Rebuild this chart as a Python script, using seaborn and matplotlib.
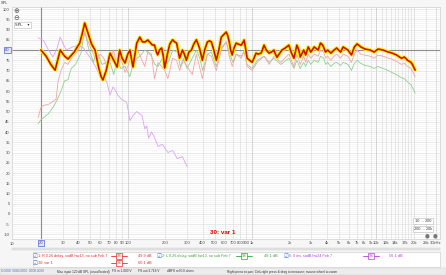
import matplotlib
matplotlib.use("Agg")
import matplotlib.pyplot as plt
import seaborn as sns
import pandas as pd
from matplotlib.lines import Line2D
from matplotlib.patches import Rectangle

sns.set_theme(style="white")
plt.rcParams['font.family'] = ['Liberation Sans', 'DejaVu Sans']

# ---------------- data ----------------
var1_freq = [20, 22, 24, 26, 28.6, 31, 33, 37, 41, 43, 45, 48, 51, 54.5, 58, 61, 63, 67, 72, 77, 82, 86, 90, 95,
             100, 104, 110, 118, 125, 131, 137, 145, 150, 157, 164, 170, 174, 180, 187, 193, 198, 204, 209, 218,
             229, 238, 247, 255, 261, 268, 275, 285, 296, 310, 325, 340, 356, 367, 377, 388, 398, 415, 437, 455,
             470, 492, 515, 540, 565, 590, 619, 637, 655, 672, 692, 715, 745, 780, 817, 840, 863, 885, 912, 955,
             1000, 1035, 1076, 1120, 1180, 1210, 1247, 1300, 1368, 1430, 1500, 1540, 1585, 1650, 1738, 1850,
             1977, 2060, 2168, 2230, 2291, 2377, 2440, 2600, 2700, 2830, 2965, 3160, 3400, 3550, 3700, 3900,
             4050, 4300, 4570, 4790, 5150, 5400, 5900, 6300, 6650, 7000, 7500, 8100, 8900, 9600, 10300, 11300,
             12500, 13400, 14500, 15900, 16800, 17800, 19000, 19600, 20500]
var1_db = [80, 77, 73, 70.2, 80, 77, 75.6, 79, 83.4, 88, 93.2, 88, 83, 80, 72, 67, 65.4, 70, 78.5, 75, 71.7, 80, 76,
           73.7, 78, 80, 71.7, 83.4, 86.3, 84, 83.9, 84.9, 83.9, 82.5, 82.4, 79, 77.6, 80, 81, 77, 71.2, 75, 78.5,
           83, 85, 84, 83.4, 79, 76, 78, 80, 78, 75, 79, 80, 83, 85, 83, 81, 78, 75, 80, 84, 84.5, 84, 80, 75, 80,
           86.3, 87.5, 88.8, 87, 84, 80, 77.6, 81, 83.4, 82.8, 82.4, 83.5, 84.9, 81, 76, 75, 74, 76, 78.5, 78,
           78.5, 80, 82.4, 80, 78.5, 79, 80, 78, 76.5, 78, 80, 81, 82.4, 79, 76, 79, 82.4, 80, 76.6, 80, 77.6,
           81.5, 79, 81.5, 80, 83.4, 82.4, 79, 80, 78.5, 80, 81, 79, 81.5, 80, 77.6, 81.5, 83, 81.5, 80.5, 80, 79,
           80.5, 80, 79, 78.5, 77.6, 76, 76.6, 75, 74, 72.7, 70.2]

r_freq = [19, 20, 21, 23, 25, 26.5, 27.5, 29, 31, 33, 36, 40, 43, 45, 48, 52, 56, 60, 64, 68, 72, 77, 82, 88, 95,
          100, 104, 112, 120, 130, 137, 145, 155, 164, 175, 187, 198, 210, 229, 247, 261, 280, 300, 330, 356, 377,
          398, 437, 470, 515, 565, 619, 655, 692, 745, 817, 863, 912, 1000, 1100, 1250, 1370, 1500, 1700, 1980,
          2170, 2290, 2440, 2600, 2700, 2830, 2965, 3160, 3400, 3550, 3770, 3900, 4050, 4300, 4570, 4790, 5150,
          5400, 5900, 6300, 6650, 7000, 7500, 8100, 8900, 9600, 10300, 11300, 12500, 13400, 14500, 15900, 16800,
          17800, 19000, 19600, 20500]
r_db = [47, 52, 53, 53.5, 55, 56, 65, 70, 74, 73, 77, 80, 85, 88, 84, 79, 75, 78, 76, 72, 76, 80, 71, 76, 69, 72,
        75, 77, 80, 75, 72, 79, 78, 66, 74, 72, 70, 66, 76, 75, 70, 75, 72, 68, 78, 72, 66, 78, 77, 70, 80, 84, 77,
        72, 78, 76, 80, 72, 70, 74, 77, 73, 77, 74, 78, 72, 78, 73, 77, 74, 78, 76, 78, 77, 80, 79, 76, 77, 75, 77,
        78, 76, 78, 77, 74, 78, 80, 78, 77.5, 77, 76, 77.5, 77, 76, 75.5, 74.5, 73, 73.5, 72, 71, 69.5, 67]

l_freq = [19, 20, 21, 23, 25, 27, 29, 31, 33, 35, 38, 42, 45, 48, 53, 56, 62, 68, 72, 77, 82, 88, 95, 104, 110,
          118, 125, 137, 145, 155, 165, 175, 190, 200, 215, 230, 250, 265, 280, 300, 330, 356, 380, 400, 437, 470,
          515, 565, 619, 655, 700, 745, 820, 865, 910, 1000, 1100, 1250, 1370, 1500, 1700, 1980, 2170, 2290, 2440,
          2600, 2700, 2830, 2965, 3160, 3400, 3550, 3770, 3900, 4050, 4300, 4570, 4790, 5150, 5400, 5900, 6300,
          6650, 7000, 7500, 8100, 8900, 9600, 10300, 11300, 12500, 13400, 14500, 15900, 16800, 17800, 19000,
          19600, 20500]
l_db = [44, 46, 47, 49, 52, 55.6, 60, 65, 65.5, 71, 73, 78.5, 90, 81.5, 74, 80, 73, 74, 74, 68, 75, 71, 72, 67,
        73, 76, 77, 80, 79, 77, 73, 72, 76, 72, 75, 80, 79, 72, 76, 71, 76, 80, 76, 70, 78, 79, 72, 81, 84, 79, 74,
        78, 77, 79, 73, 71, 75, 77, 74, 76, 73, 76, 71, 75, 71, 74, 72, 75, 73, 75, 74, 77, 76, 73, 74, 72, 73.5,
        74, 72.5, 74, 73, 70, 73.5, 75, 73.5, 72.5, 72, 71, 72, 71, 70, 69, 68, 66.5, 66, 64.5, 63, 61.5, 59]

inv_freq = [19, 21, 23, 25, 27, 28.6, 30, 32, 36, 40, 44, 50, 55, 60, 64, 68, 72, 76, 80, 83, 89, 98, 104, 110,
            118, 130, 137, 142, 147, 155, 162, 175, 190, 210, 230, 250, 275, 300]
inv_db = [86, 84.6, 80, 76.6, 81, 86.3, 83.4, 80, 81.5, 82.4, 81, 76, 72, 66.8, 67, 64, 58, 62, 60, 58, 56, 54.5,
          45.5, 48, 50, 48, 41.5, 43, 37, 40, 38, 33, 34, 30, 31, 27, 28, 23]

x_ticks = [20, 30, 40, 50, 60, 70, 80, 90, 100, 200, 300, 400, 500, 600, 700, 800, 900, 1000, 2000, 3000, 4000,
           5000, 6000, 7000, 8000, 9000, 10000, 12000, 14000, 17000, 20000, 25000, 30000]
x_labels = ["20", "30", "40", "50", "60", "70", "80", "90", "100", "200", "300", "400", "500", "600", "700", "800",
            "900", "1k", "2k", "3k", "4k", "5k", "6k", "7k", "8k", "9k", "10k", "12k", "14k", "17k", "20k", "25k",
            "30kHz"]
y_ticks = list(range(-10, 101, 5))

legend_names = ["1: R 0.26 delay, sodB hw13, no sub Feb 7", "2: L 0.26 delay, sodB hw13, no sub Feb 7",
                "6: 0 inv, sodB hw24 Feb 7", "30: var 1"]
legend_levels = ["49.9 dB", "48.1 dB", "56.1 dB", "60.1 dB"]

# ---------------- figure ----------------
W, H = 446, 275
fig = plt.figure(figsize=(W / 100, H / 100), dpi=100, facecolor='#f6f6f6')
ax = fig.add_axes([12 / W, 36 / H, 428 / W, 232 / H])
ax.set_facecolor('white')
ax.set_xscale('log')
ax.set_xlim(11.7, 32500)
ax.set_ylim(-12.2, 101)

# grid
for d in range(-12, 102):
    ax.axhline(d, color='#d9d9d9' if d % 5 == 0 else '#efefef', lw=0.4, zorder=0)
vlines = []
for dec in [10, 100, 1000, 10000]:
    for m in range(1, 10):
        vlines.append(m * dec)
vlines += [11000, 12000, 13000, 14000, 15000, 16000, 17000, 18000, 19000, 20000, 25000, 30000]
for f in vlines:
    dark = f in (100, 1000, 10000)
    ax.axvline(f, color='#c8c8c8' if dark else '#dedede', lw=0.5, zorder=0)
ax.axvline(20, color='#8c8c8c', lw=0.8, zorder=1)
ax.axhline(80, color='#8c8c8c', lw=0.8, zorder=1)

# traces
def frame(fr, db):
    return pd.DataFrame({"freq": fr, "db": db})

sns.lineplot(data=frame(inv_freq, inv_db), x="freq", y="db", ax=ax, color='#d8a4ec', lw=0.6,
             estimator=None, sort=False, zorder=2)
sns.lineplot(data=frame(l_freq, l_db), x="freq", y="db", ax=ax, color='#8fcf8f', lw=0.6,
             estimator=None, sort=False, zorder=3)
sns.lineplot(data=frame(r_freq, r_db), x="freq", y="db", ax=ax, color='#f4a3a3', lw=0.6,
             estimator=None, sort=False, zorder=4)
sns.lineplot(data=frame(var1_freq, var1_db), x="freq", y="db", ax=ax, color='#fff200', lw=2.6,
             estimator=None, sort=False, zorder=5)
sns.lineplot(data=frame(var1_freq, var1_db), x="freq", y="db", ax=ax, color='#cc1100', lw=1.2,
             estimator=None, sort=False, zorder=6)

ax.set_xlabel("")
ax.set_ylabel("")
for s in ax.spines.values():
    s.set_color('#d0d0d0')
    s.set_linewidth(0.5)
ax.tick_params(length=0, pad=1.5, labelsize=3, colors='#444444')
ax.set_xticks(x_ticks)
ax.set_xticklabels(x_labels)
ax.xaxis.set_minor_locator(matplotlib.ticker.NullLocator())
ax.set_yticks(y_ticks)
ax.set_yticklabels([("" if v == 80 else str(v)) for v in y_ticks])
for lab in ax.get_xticklabels():
    if lab.get_text() == "20":
        lab.set_bbox(dict(boxstyle='square,pad=0.25', fc='#e4e6ff', ec='#4f5fe0', lw=0.5))

def fx(x):
    return x / W

def fy(y):
    return 1 - y / H

# REF box on y axis
fig.text(fx(7.5), fy(50), "80", fontsize=3, ha='center', va='center', color='#3040c0',
         bbox=dict(boxstyle='square,pad=0.25', fc='#e4e6ff', ec='#4f5fe0', lw=0.5))
fig.text(fx(1), fy(3), "SPL", fontsize=2.8, ha='left', va='center', color='#444444')
fig.text(fx(12), fy(244), "10", fontsize=3, ha='center', va='center', color='#444444')

# top-left controls
fig.text(fx(16), fy(11), "\u2295", fontsize=5, ha='center', va='center', color='#555555',
         family=['DejaVu Sans'])
fig.text(fx(16), fy(18), "\u2296", fontsize=5, ha='center', va='center', color='#555555',
         family=['DejaVu Sans'])
fig.text(fx(15), fy(25), "SPL    \u25be", fontsize=3, ha='left', va='center', color='#333333',
         family=['DejaVu Sans'],
         bbox=dict(boxstyle='square,pad=0.3', fc='white', ec='#bbbbbb', lw=0.4))

# title
ax.text(0.492, 0.03, "30: var 1", transform=ax.transAxes, fontsize=4.5, fontweight='bold', color='#dd0000',
        ha='center', va='center')

# range boxes lower right
fig.text(fx(423), fy(221), "10 ... 200", fontsize=2.8, ha='center', va='center', color='#333333',
         bbox=dict(boxstyle='square,pad=0.35', fc='white', ec='#bbbbbb', lw=0.4))
fig.text(fx(423), fy(229), "200 ... 20k", fontsize=2.8, ha='center', va='center', color='#333333',
         bbox=dict(boxstyle='square,pad=0.35', fc='white', ec='#bbbbbb', lw=0.4))
fig.text(fx(427), fy(236), "\u25cf", fontsize=4, ha='center', va='center', color='#777777',
         family=['DejaVu Sans'])
fig.text(fx(435), fy(236), "\u25cf", fontsize=4, ha='center', va='center', color='#777777',
         family=['DejaVu Sans'])

# scrollbar
fig.add_artist(Rectangle((fx(12), fy(250)), 428 / W, 2 / H, transform=fig.transFigure,
                         fc='#e2e2e2', ec='#cfcfcf', lw=0.3))

# legend panel
fig.add_artist(Rectangle((fx(33), fy(267)), 407 / W, 15 / H, transform=fig.transFigure,
                         fc='white', ec='#c8c8c8', lw=0.4))
leg_colors = ['#e03030', '#3aa03a', '#b040d8', '#e03030']
leg_pos = [(35, 256, 113, 138), (159, 256, 238, 264), (286, 256, 365, 389), (35, 263, 113, 138)]
for name, lvl, col, (cx, cy, sx, lx) in zip(legend_names, legend_levels, leg_colors, leg_pos):
    fig.text(fx(cx), fy(cy), "\u2611", fontsize=4, ha='center', va='center', color='#3070d0',
             family=['DejaVu Sans'])
    fig.text(fx(cx + 3), fy(cy), name, fontsize=2.7, ha='left', va='center', color=col)
    fig.add_artist(Line2D([fx(sx - 2), fx(sx + 14)], [fy(cy), fy(cy)], transform=fig.transFigure,
                          color=col, lw=0.6))
    fig.text(fx(sx + 6), fy(cy), "1/6", fontsize=2.5, ha='center', va='center', color=col,
             bbox=dict(boxstyle='square,pad=0.2', fc='white', ec=col, lw=0.5))
    fig.text(fx(lx), fy(cy), lvl, fontsize=2.8, ha='left', va='center', color=col)

# status bar
fig.add_artist(Rectangle((0, 0), 1, 7.5 / H, transform=fig.transFigure, fc='#ececec', ec='#cccccc', lw=0.3))
status = [(1, "0.0000  0000.0000  0000.0000", '#5070b0'),
          (57, "Max input 120 dB SPL (uncalibrated)", '#333333'),
          (112, "FS in 1.000 V", '#333333'),
          (138, "FS out 3.718 V", '#333333'),
          (167, "dBFS ref 0.0 ohms", '#333333'),
          (227, "Right press to pan; Ctrl+right press & drag to measure; mouse wheel to zoom", '#333333')]
for x, t, c in status:
    fig.text(fx(x), fy(271.5), t, fontsize=2.3, ha='left', va='center', color=c)

fig.savefig("out.png", dpi=100, facecolor=fig.get_facecolor())
